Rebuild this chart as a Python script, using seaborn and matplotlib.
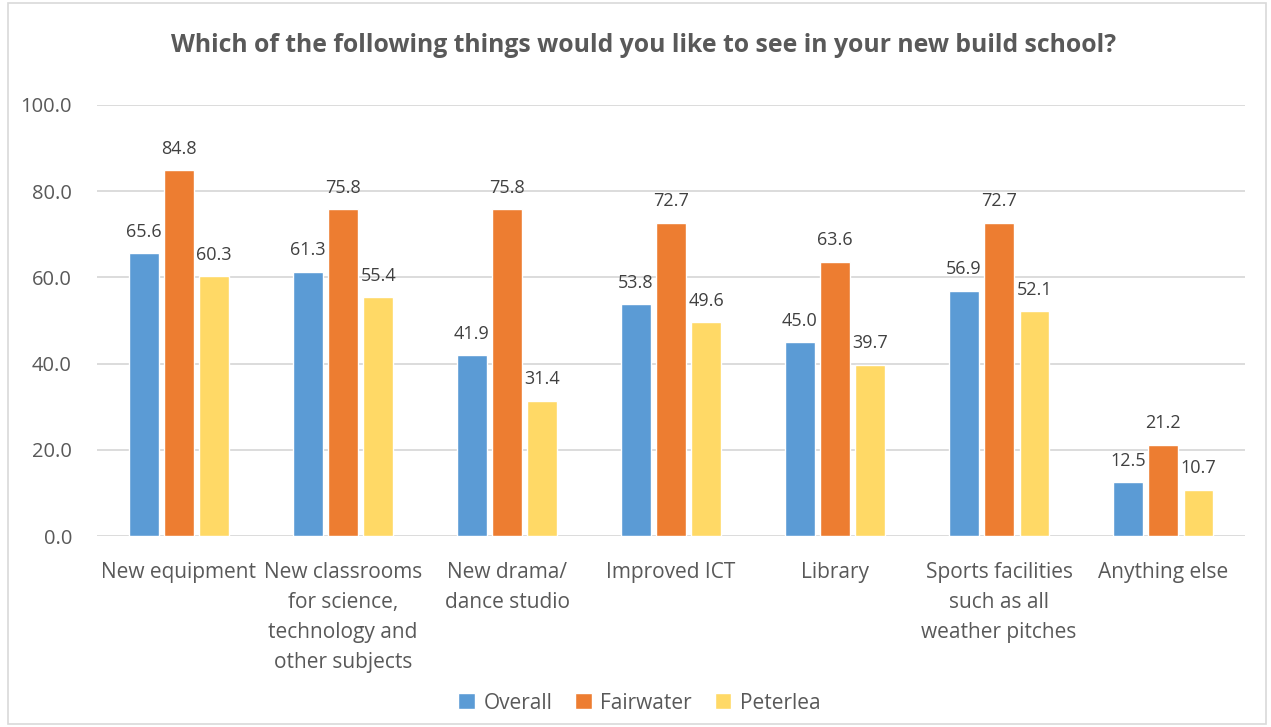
import matplotlib
matplotlib.use("Agg")
import matplotlib.pyplot as plt
from matplotlib.patches import Rectangle
import seaborn as sns
import pandas as pd

# data
categories = [
    "New equipment",
    "New classrooms\nfor science,\ntechnology and\nother subjects",
    "New drama/\ndance studio",
    "Improved ICT",
    "Library",
    "Sports facilities\nsuch as all\nweather pitches",
    "Anything else",
]
overall = [65.6, 61.3, 41.9, 53.8, 45.0, 56.9, 12.5]
fairwater = [84.8, 75.8, 75.8, 72.7, 63.6, 72.7, 21.2]
peterlea = [60.3, 55.4, 31.4, 49.6, 39.7, 52.1, 10.7]
series = ["Overall", "Fairwater", "Peterlea"]
colors = ["#5B9BD5", "#ED7D31", "#FFD966"]
yticks = [0, 20, 40, 60, 80, 100]

# long format table for seaborn
rows = []
for name, vals in zip(series, [overall, fairwater, peterlea]):
    for c, v in zip(categories, vals):
        rows.append({"category": c, "series": name, "value": v})
df = pd.DataFrame(rows)

sns.set_style("white")
plt.rcParams["font.family"] = ["Open Sans", "DejaVu Sans"]

fig = plt.figure(figsize=(12.71, 7.27), dpi=100)
ax = fig.add_axes([0.0763, 0.2627, 0.9033, 0.5929])

sns.barplot(
    data=df, x="category", y="value", hue="series",
    palette=colors, width=0.645, gap=0.16, saturation=1,
    order=categories, hue_order=series, ax=ax)

for cont in ax.containers:
    ax.bar_label(cont, fmt="%.1f", padding=9, fontsize=13, color="#404040")

ax.set_ylim(0, 100)
ax.set_yticks(yticks)
ax.set_yticklabels(["%.1f" % t for t in yticks])
ax.yaxis.grid(True, color="#D9D9D9", linewidth=1.3)
ax.set_axisbelow(True)
for s in ax.spines.values():
    s.set_visible(False)
ax.tick_params(axis="both", length=0, labelsize=14.5, colors="#595959")
ax.tick_params(axis="x", labelsize=15)
ax.tick_params(axis="y", pad=18)
ax.tick_params(axis="x", pad=19)
for lab in ax.get_xticklabels():
    lab.set_linespacing(1.55)
    lab.set_verticalalignment("top")
ax.set_xlabel("")
ax.set_ylabel("")

# title centred on the figure, not the axes
fig.text(0.506, 0.938, "Which of the following things would you like to see in your new build school?",
         ha="center", va="center", fontsize=17.8, fontweight="bold", color="#595959")

ax.legend(loc="center", bbox_to_anchor=(0.503, 0.033), bbox_transform=fig.transFigure,
          ncol=3, frameon=False, fontsize=15, handlelength=0.8, handleheight=0.8,
          handletextpad=0.4, columnspacing=1.1, labelcolor="#595959")

fig.patches.append(Rectangle((0.006, 0.004), 0.99, 0.992, transform=fig.transFigure,
                             fill=False, edgecolor="#D9D9D9", linewidth=1.2))

fig.savefig("out.png", dpi=100)
